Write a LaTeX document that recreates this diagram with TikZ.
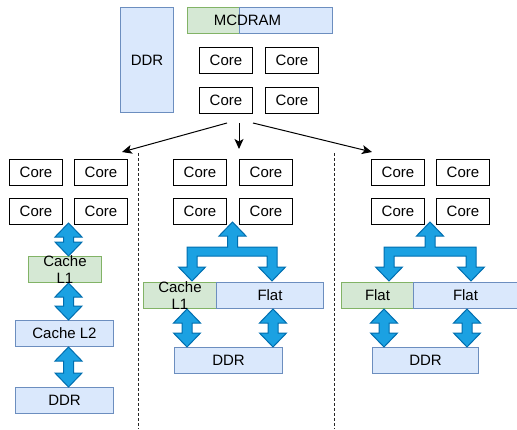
\documentclass[tikz,border=0pt]{standalone}
\usepackage{fontspec}
\setmainfont{Liberation Sans}
\usetikzlibrary{arrows.meta,calc}
\definecolor{gfill}{HTML}{D5E8D4}
\definecolor{gdraw}{HTML}{82B366}
\definecolor{bfill}{HTML}{DAE8FC}
\definecolor{bdraw}{HTML}{6C8EBF}
\definecolor{afill}{HTML}{1BA1E2}
\definecolor{adraw}{HTML}{006EAF}
\newcommand\flexdbl[2]{\path[flexa] let \p1=(#1), \p2=(#2) in
  (\x1,\y1) -- (\x1+13.5pt,\y1-14pt) -- (\x1+5pt,\y1-14pt) -- (\x1+5pt,\y2+14pt)
  -- (\x1+13.5pt,\y2+14pt) -- (\x1,\y2) -- (\x1-13.5pt,\y2+14pt) -- (\x1-5pt,\y2+14pt)
  -- (\x1-5pt,\y1-14pt) -- (\x1-13.5pt,\y1-14pt) -- cycle;}
\newcommand\flextree[7]{\path[flexa] (#1,#4) -- ({#1+13.5},{#4+14}) -- ({#1+5},{#4+14})
  -- ({#1+5},#5) -- ({#3+5},#5) -- ({#3+5},{#7-14}) -- ({#3+13.5},{#7-14}) -- (#3,#7)
  -- ({#3-13.5},{#7-14}) -- ({#3-5},{#7-14}) -- ({#3-5},#6) -- ({#2+5},#6)
  -- ({#2+5},{#7-14}) -- ({#2+13.5},{#7-14}) -- (#2,#7) -- ({#2-13.5},{#7-14})
  -- ({#2-5},{#7-14}) -- ({#2-5},#5) -- ({#1-5},#5) -- ({#1-5},{#4+14})
  -- ({#1-13.5},{#4+14}) -- cycle;}
\begin{document}
\begin{tikzpicture}[x=1pt,y=-1pt,
  every node/.style={font=\fontsize{15}{16.5}\selectfont, inner sep=0pt},
  box/.style={draw, line width=1pt, anchor=north west},
  core/.style={box, fill=white, minimum width=53pt, minimum height=26pt},
  gbox/.style={box, draw=gdraw, fill=gfill, minimum height=26pt},
  bbox/.style={box, draw=bdraw, fill=bfill, minimum height=26pt},
  flexa/.style={draw=adraw, fill=afill, line width=1pt, line join=miter},
  sep/.style={draw=black!85, line width=1pt, dash pattern=on 3pt off 2pt},
  conn/.style={draw, line width=1pt, -{Stealth[length=10pt,width=9pt,inset=2.5pt]}}]
\useasboundingbox (0,0) rectangle (517,429);
% top
\node[bbox, minimum width=53pt, minimum height=105pt] (ddrT) at (120,7) {DDR};
\node[gbox, minimum width=52pt] (mcg) at (187,7) {};
\node[bbox, minimum width=93pt] (mcb) at (239,7) {};
\node (mct) at (247.5,20.5) {MCDRAM};
\node[core] (t1) at (199,47) {Core};
\node[core] (t2) at (265,47) {Core};
\node[core] (t3) at (199,87) {Core};
\node[core] (t4) at (265,87) {Core};
\coordinate (s1) at (227,123);
\coordinate (s2) at (239,123);
\coordinate (s3) at (253,123);
\coordinate (e1) at (122,152);
\coordinate (e2) at (239,149);
\coordinate (e3) at (372,152);
\draw[conn] (s1) -- (e1);
\draw[conn] (s2) -- (e2);
\draw[conn] (s3) -- (e3);
% separators
\coordinate (d1a) at (138,153); \coordinate (d1b) at (138,429);
\coordinate (d2a) at (334,153); \coordinate (d2b) at (334,429);
\draw[sep] (d1a) -- (d1b);
\draw[sep] (d2a) -- (d2b);
% left panel
\node[core] (lc1) at (9,159) {Core};
\node[core] (lc2) at (74,159) {Core};
\node[core] (lc3) at (9,198) {Core};
\node[core] (lc4) at (74,198) {Core};
\node[gbox, minimum width=73pt] (l1) at (28,256) {};
\node[bbox, minimum width=98pt] (l2) at (15,320) {Cache L2};
\node[bbox, minimum width=98pt] (ddrL) at (15,387) {DDR};
\coordinate (la) at ($(lc3.south east)!0.5!(lc4.south west)+(0,-2)$);
\flexdbl{la}{la |- l1.north}
\flexdbl{la |- l1.south}{la |- l2.north}
\flexdbl{la |- l2.south}{la |- ddrL.north}
\node[align=center] (l1t) at (l1.center) {Cache\\L1};
% middle panel
\node[core] (mc1) at (173,159) {Core};
\node[core] (mc2) at (239,159) {Core};
\node[core] (mc3) at (173,198) {Core};
\node[core] (mc4) at (239,198) {Core};
\node[gbox, minimum width=73pt] (mg) at (143,282) {};
\node[bbox, minimum width=107pt] (mf) at (216,282) {Flat};
\node[bbox, minimum width=108pt] (mddr) at (174,347) {DDR};
\flextree{232.5}{192}{272}{222}{247}{256}{281}
\coordinate (ma) at ([xshift=44pt]mg.south west);
\coordinate (mb) at ([xshift=57pt]mf.south west);
\flexdbl{ma}{ma |- mddr.north}
\flexdbl{mb}{mb |- mddr.north}
\node[align=center] (mgt) at (mg.center) {Cache\\L1};
% right panel
\node[core] (rc1) at (371,159) {Core};
\node[core] (rc2) at (436,159) {Core};
\node[core] (rc3) at (371,198) {Core};
\node[core] (rc4) at (436,198) {Core};
\node[gbox, minimum width=72pt] (rg) at (341,282) {Flat};
\node[bbox, minimum width=104pt] (rf) at (413,282) {Flat};
\node[bbox, minimum width=106pt] (rddr) at (372,347) {DDR};
\flextree{430}{389}{471}{222}{247}{256}{281}
\coordinate (ra) at ([xshift=43pt]rg.south west);
\coordinate (rb) at ([xshift=54pt]rf.south west);
\flexdbl{ra}{ra |- rddr.north}
\flexdbl{rb}{rb |- rddr.north}
\end{tikzpicture}
\end{document}
